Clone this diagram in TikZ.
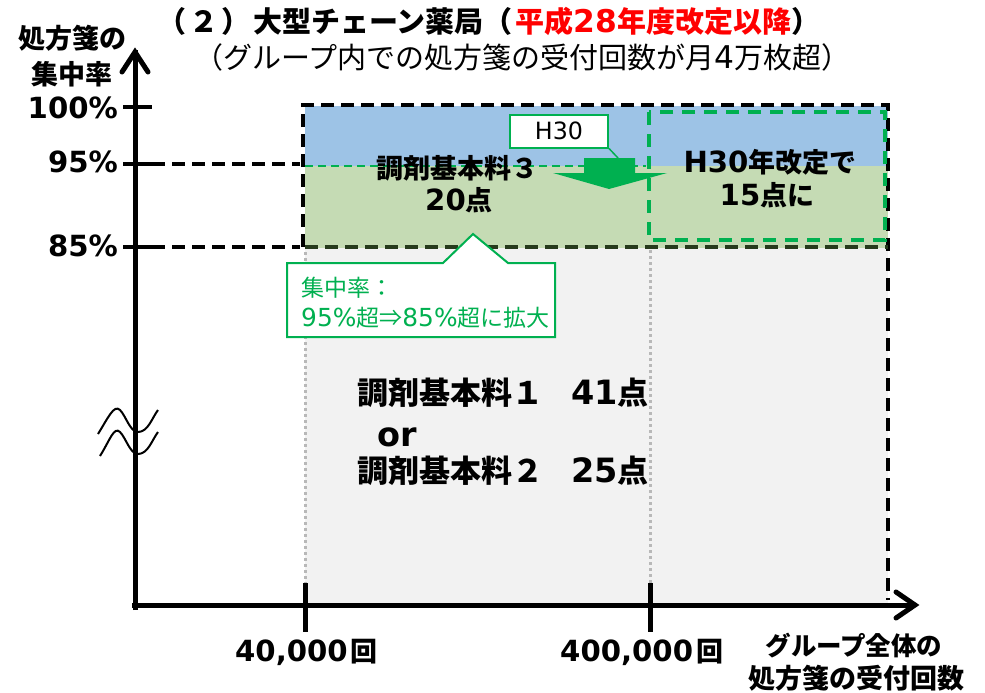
\documentclass[tikz,border=0pt]{standalone}
\usepackage{fontspec}
\setmainfont{Noto Sans CJK JP}
\newfontfamily\lat{DejaVu Sans}[Scale=1.08]
\usetikzlibrary{arrows.meta}
\definecolor{blu}{HTML}{9DC3E6}
\definecolor{grn}{HTML}{C5DBB4}
\definecolor{gry}{HTML}{F2F2F2}
\definecolor{acc}{HTML}{00B050}
\definecolor{dkg}{HTML}{263A1C}
\definecolor{ttlred}{HTML}{FF0000}
\tikzset{
  lbl/.style={font=\fontsize{27}{32}\selectfont\bfseries, inner sep=0pt},
  biglbl/.style={font=\fontsize{31}{36}\selectfont\bfseries, inner sep=0pt},
  axisline/.style={line width=5pt},
  blkdash/.style={line width=3.5pt, dash pattern=on 13pt off 7pt},
  dotv/.style={color=black!28, line width=3pt, dash pattern=on 3pt off 3pt},
  callt/.style={anchor=west, inner sep=0pt, text=acc, font=\fontsize{23}{27}\selectfont},
}
\begin{document}
\begin{tikzpicture}[x=1pt,y=-1pt]
\useasboundingbox (0,0) rectangle (985,693);
% regions
\fill[gry] (305,106) rectangle (888,604);
\fill[blu] (305,106) rectangle (888,166);
\fill[grn] (305,166) rectangle (888,248);
% dotted verticals
\draw[dotv] (305,252) -- (305,583);
\draw[dotv] (650,250) -- (650,583);
% thin green dashed line at 95%
\draw[acc, line width=1.5pt, dash pattern=on 8pt off 5pt] (305,166) -- (646,166);
% black dashed lines from axis
\draw[blkdash] (152,164) -- (300,164);
\draw[blkdash] (152,247) -- (300,247);
% black dashed outline
\draw[blkdash] (303,247) -- (303,105) -- (888,105) -- (888,600);
\draw[blkdash, dkg] (305,247) -- (888,247);
% green dashed rectangle
\draw[acc, line width=4pt, dash pattern=on 13pt off 9pt] (649,112) rectangle (885,240);
% axes
\draw[axisline] (135,610) -- (135,50);
\draw[axisline, line cap=round] (122,72) -- (135,52) -- (148,72);
\draw[axisline] (132,605) -- (913,605);
\draw[axisline, line cap=round] (896,592) -- (915,605) -- (896,618);
% y ticks
\draw[line width=4pt] (123,107) -- (152,107);
\draw[line width=4pt] (123,164) -- (152,164);
\draw[line width=4pt] (123,247) -- (152,247);
% x ticks
\draw[line width=5pt] (305,583) -- (305,632);
\draw[line width=5pt] (650,583) -- (650,632);
% break symbol
\draw[line width=2pt] (98,434) .. controls (108,418) and (114,404) .. (120,410) .. controls (126,416) and (130,432) .. (138,432) .. controls (148,432) and (152,418) .. (158,410);
\draw[line width=2pt] (100,456) .. controls (110,440) and (114,426) .. (120,432) .. controls (126,438) and (130,454) .. (138,454) .. controls (148,454) and (152,440) .. (158,432);
% titles
\node[anchor=west, inner sep=0pt, font=\fontsize{29}{32}\selectfont\bfseries] (title) at (157,21) {（\kern3pt ２\kern3pt ）\kern3pt 大型チェーン薬局（\kern3pt\textcolor{ttlred}{平成{\lat 28}年度改定以降}）};
\node[anchor=west, inner sep=0pt, font=\fontsize{29}{32}\selectfont] (subtitle) at (194,57) {（グループ内での処方箋の受付回数が月{\lat 4}万枚超）};
% y axis label
\node[lbl, anchor=center] (ylab1) at (73,38) {処方箋の};
\node[lbl, anchor=center] (ylab2) at (72,74) {集中率};
\node[lbl, anchor=east] (p100) at (118,108) {\lat 100\%};
\node[lbl, anchor=east] (p95) at (118,162) {\lat 95\%};
\node[lbl, anchor=east] (p85) at (118,246) {\lat 85\%};
% x labels
\node[lbl, anchor=west] (x40k) at (235,652) {{\lat 40,000}\kern3pt 回};
\node[lbl, anchor=west] (x400k) at (560,652) {{\lat 400,000}\kern3pt 回};
\node[lbl, font=\fontsize{25.5}{30}\selectfont\bfseries] (xlab1) at (854,646) {グループ全体の};
\node[lbl] (xlab2) at (856,678) {処方箋の受付回数};
% texts in regions
\node[lbl] (k3a) at (457,168) {調剤基本料３};
\node[lbl] (k3b) at (459,200) {{\lat 20}点};
\node[lbl] (h30a) at (770,162) {{\lat H30}年改定で};
\node[lbl] (h30b) at (767,195) {{\lat 15}点に};
\node[biglbl, anchor=west] (k1) at (357,393) {調剤基本料１\hspace{0.9em}{\lat 41}点};
\node[biglbl, anchor=west] (kor) at (377,437) {\lat or};
\node[biglbl, anchor=west] (k2) at (357,471) {調剤基本料２\hspace{0.9em}{\lat 25}点};
% big green arrow
\fill[acc] (584,158) -- (635,158) -- (635,173) -- (667,173) -- (609,189) -- (553,173) -- (584,173) -- cycle;
\coordinate (arrtop) at (618,158);
% H30 box
\node[draw=acc, fill=white, line width=2pt, minimum width=98pt, minimum height=33pt, inner sep=0pt, font=\fontsize{22}{26}\selectfont] (h30) at (559,131) {\lat H30};
\draw[acc, line width=1.5pt] (h30.south east) -- (arrtop);
% callout
\draw[acc, fill=white, line width=2pt] (287,263) -- (443,263) -- (473,234) -- (508,263) -- (555,263) -- (555,337) -- (287,337) -- cycle;
\node[callt] (c1) at (301,288) {集中率：};
\node[callt] (c2) at (301,318) {{\lat 95\%}超⇒{\lat 85\%}超に拡大};
\end{tikzpicture}
\end{document}
